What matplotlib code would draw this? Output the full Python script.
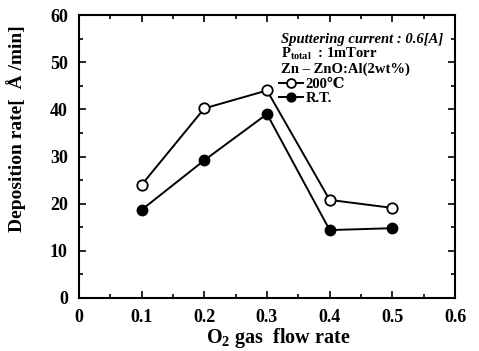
import matplotlib
matplotlib.use("Agg")
import matplotlib.pyplot as plt

flow = [0.1, 0.2, 0.3, 0.4, 0.5]
rate_200c = [24.0, 40.2, 44.0, 20.8, 19.1]
rate_rt = [18.7, 29.2, 39.0, 14.4, 14.8]

x_ticks = [0, 0.1, 0.2, 0.3, 0.4, 0.5, 0.6]
x_labels = ['0', '0.1', '0.2', '0.3', '0.4', '0.5', '0.6']
y_ticks = [0, 10, 20, 30, 40, 50, 60]

plt.rcParams['font.family'] = ['Liberation Serif', 'DejaVu Serif']
plt.rcParams['font.weight'] = 'bold'
plt.rcParams['mathtext.fontset'] = 'custom'
plt.rcParams['mathtext.rm'] = 'Liberation Serif:bold'
plt.rcParams['mathtext.it'] = 'Liberation Serif:bold'
plt.rcParams['mathtext.bf'] = 'Liberation Serif:bold'

fig = plt.figure(figsize=(4.79, 3.51), dpi=100)
ax = fig.add_axes([79 / 479, 53 / 351, 376 / 479, 283 / 351])

ax.plot(flow, rate_200c, '-o', color='black', mfc='white', mec='black',
        ms=7.5, lw=1.4, mew=1.3, label='200\u2103')
ax.plot(flow, rate_rt, '-o', color='black', mfc='black', mec='black',
        ms=7.5, lw=1.4, label='R.T.')

ax.set_xlim(0, 0.6)
ax.set_ylim(0, 60)
ax.set_xticks(x_ticks)
ax.set_xticklabels(x_labels)
ax.set_xticks([0.05, 0.15, 0.25, 0.35, 0.45, 0.55], minor=True)
ax.set_yticks(y_ticks)
ax.set_yticklabels([str(v) for v in y_ticks])
ax.set_yticks([5, 15, 25, 35, 45, 55], minor=True)
ax.tick_params(which='both', direction='in', top=True, right=True, width=1.2)
ax.tick_params(which='major', length=5, labelsize=13, pad=8)
ax.tick_params(which='minor', length=3)
for s in ax.spines.values():
    s.set_linewidth(1.5)

ax.set_xlabel('O$_2$ gas  flow rate', fontsize=14.5, fontweight='bold')
ax.xaxis.set_label_coords(0.53, -0.1)
ax.set_ylabel('Deposition rate[  \u00c5 /min]', fontsize=14, fontweight='bold')
ax.yaxis.set_label_coords(-0.14, 0.6)

ax.text(0.537, 0.912, 'Sputtering current : 0.6[A]', transform=ax.transAxes,
        ha='left', va='center', fontsize=10.5, style='italic', fontweight='bold')
ax.text(0.537, 0.863, 'P$_{total}$  : 1mTorr', transform=ax.transAxes,
        ha='left', va='center', fontsize=10.5, fontweight='bold')
ax.text(0.537, 0.81, 'Zn \u2013 ZnO:Al(2wt%)', transform=ax.transAxes,
        ha='left', va='center', fontsize=10.5, fontweight='bold')
ax.legend(loc='upper left', bbox_to_anchor=(0.533, 0.778), frameon=False,
          fontsize=10.5, handlelength=1.6, handletextpad=0.2, labelspacing=0.05,
          borderaxespad=0, borderpad=0, markerscale=0.85)

fig.savefig('out.png', dpi=100)
